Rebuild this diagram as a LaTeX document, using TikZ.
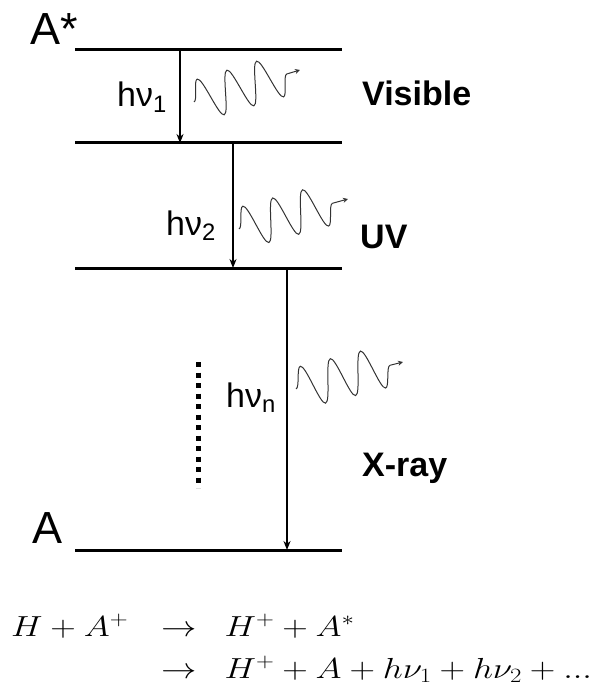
\documentclass[tikz,border=0pt]{standalone}
\usepackage{fix-cm}
\usepackage{amsmath}
\usepackage{graphicx}
\usepackage{fontspec}
\newfontfamily\labelfont{Liberation Sans}
\usetikzlibrary{arrows.meta, decorations.pathmorphing}

\begin{document}
\begin{tikzpicture}[
    x=1pt, y=-1pt,
    energy/.style={line width=3pt},
    trans/.style={line width=1.8pt, -{Stealth[length=9pt, width=7pt]}},
    photon/.style={line width=1pt, black!80, decorate,
                decoration={snake, amplitude=21pt, segment length=31pt, post length=3pt},
                -{Stealth[length=5pt, width=5pt]}},
    statelabel/.style={font=\labelfont\fontsize{45}{50}\selectfont, inner sep=0pt, anchor=base west},
    hvlabel/.style={font=\labelfont\fontsize{34}{39}\selectfont, inner sep=0pt, anchor=base west},
    bandlabel/.style={font=\labelfont\bfseries\fontsize{34}{40}\selectfont, inner sep=0pt, anchor=base west}
]
\useasboundingbox (0,0) rectangle (600,695);

% === LEVELS ===
\coordinate (l1w) at (75,50);  \coordinate (l1e) at (342,50);
\coordinate (l2w) at (75,143); \coordinate (l2e) at (342,143);
\coordinate (l3w) at (75,268); \coordinate (l3e) at (342,268);
\coordinate (l4w) at (75,550); \coordinate (l4e) at (342,550);
\draw[energy] (l1w) -- (l1e);
\draw[energy] (l2w) -- (l2e);
\draw[energy] (l3w) -- (l3e);
\draw[energy] (l4w) -- (l4e);

\node[statelabel] (astar) at (30,45) {A*};
\node[statelabel] (aground) at (32,543) {A};

% === TRANSITIONS ===
\coordinate (t1a) at (180,50);  \coordinate (t1b) at (180,143);
\coordinate (t2a) at (233,143); \coordinate (t2b) at (233,268);
\coordinate (t3a) at (287,268); \coordinate (t3b) at (287,550);
\draw[trans] (t1a) -- (t1b);
\draw[trans] (t2a) -- (t2b);
\draw[trans] (t3a) -- (t3b);

\node[hvlabel] (hv1) at (117,107) {hν\textsubscript{1}};
\node[hvlabel] (hv2) at (166,235) {hν\textsubscript{2}};
\node[hvlabel] (hvn) at (226,407) {hν\textsubscript{n}};

% === PHOTONS ===
\coordinate (p1a) at (194,102); \coordinate (p1b) at (300,70);
\coordinate (p2a) at (239,229); \coordinate (p2b) at (348,199);
\coordinate (p3a) at (296,389); \coordinate (p3b) at (403,362);
\draw[photon] (p1a) -- (p1b);
\draw[photon] (p2a) -- (p2b);
\draw[photon] (p3a) -- (p3b);

\node[bandlabel] (vis) at (362,106) {Visible};
\node[bandlabel] (uv) at (360,248) {UV};
\node[bandlabel] (xray) at (362,476) {X-ray};

% === DOTS ===
\coordinate (dtop) at (198,362); \coordinate (dbot) at (198,488);
\draw[line width=5pt, dash pattern=on 5pt off 5.5pt] (dtop) -- (dbot);

% === REACTION ===
\node[anchor=west, inner sep=0pt, font=\fontsize{29}{35}\selectfont] (react) at (11,650)
{\scalebox{1.22}[1]{$\begin{array}{@{}r@{\hspace{27pt}}c@{\hspace{23pt}}l@{}}
H + A^{+} & \rightarrow & H^{+} + A^{*}\\[7pt]
 & \rightarrow & H^{+} + A + h\nu_1 + h\nu_2 + ...
\end{array}$}};

\end{tikzpicture}
\end{document}
